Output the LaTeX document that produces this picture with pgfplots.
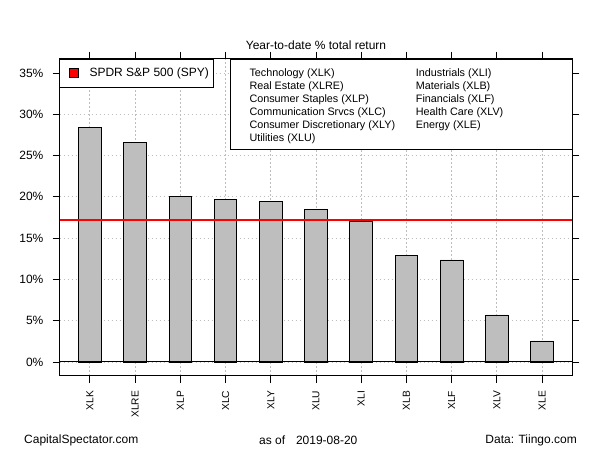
\documentclass[border=0pt]{standalone}
\usepackage{fontspec}
\setmainfont{Liberation Sans}
\usepackage{pgfplots}
\pgfplotsset{compat=1.18}

\definecolor{bargray}{HTML}{BEBEBE}
\definecolor{gridgray}{HTML}{BEBEBE}

\begin{document}
\fontsize{12bp}{14bp}\selectfont
\begin{tikzpicture}[x=1bp,y=1bp]
\useasboundingbox (0,0) rectangle (600,450);
\begin{axis}[
    at={(59.6bp,74bp)}, anchor=south west,
    scale only axis, width=512.7bp, height=317bp,
    xmin=-0.67, xmax=10.67, ymin=-1.7, ymax=36.7,
    xtick={0,...,10},
    xticklabels={XLK,XLRE,XLP,XLC,XLY,XLU,XLI,XLB,XLF,XLV,XLE},
    ytick={0,5,...,35},
    yticklabels={0\%,5\%,10\%,15\%,20\%,25\%,30\%,35\%},
    tick align=outside, major tick length=7bp,
    tick style={black, line width=0.8bp},
    xticklabel style={yshift=-7.7bp, rotate=90, anchor=east, inner sep=0pt,
                      font=\fontsize{10.2bp}{12bp}\selectfont},
    yticklabel style={anchor=east, inner sep=0pt, xshift=-9bp,
                      font=\fontsize{12bp}{14bp}\selectfont},
    grid=major,
    major grid style={gridgray, line width=0.8bp, dash pattern=on 1.5bp off 2.5bp},
    axis line style={black, line width=1bp},
  ]
  % sector ETFs, YTD total return (%)
  \addplot[ybar, bar width=0.5, fill=bargray, draw=black, line width=0.8bp]
    coordinates {(0,28.45) (1,26.6) (2,20.0) (3,19.64) (4,19.39) (5,18.42)
                 (6,16.97) (7,12.85) (8,12.36) (9,5.70) (10,2.55)};
  \addplot[black, line width=1bp] coordinates {(-0.67,0) (10.67,0)};
  % SPY
  \addplot[red, line width=2bp] coordinates {(-0.67,17.25) (10.67,17.25)};
\end{axis}

% legends
\draw[fill=white, line width=1bp] (59.6,390.7) rectangle (213.3,362.7);
\draw[fill=red, line width=0.8bp] (69.3,372.2) rectangle (78.3,381.2);
\node[anchor=west, inner sep=0pt] at (89.3,376.7) {SPDR S\&P 500 (SPY)};

\draw[fill=white, line width=1bp] (230.7,390.7) rectangle (572.3,300.7);
\begin{scope}[every node/.style={anchor=west, inner sep=0pt, font=\fontsize{10.8bp}{13bp}\selectfont}]
\foreach \t [count=\i from 0] in {Technology (XLK),Real Estate (XLRE),Consumer Staples (XLP),Communication Srvcs (XLC),Consumer Discretionary (XLY),Utilities (XLU)}
  \node at (249.3,376-13*\i) {\t};
\foreach \t [count=\i from 0] in {Industrials (XLI),Materials (XLB),Financials (XLF),Health Care (XLV),Energy (XLE)}
  \node at (415.7,376-13*\i) {\t};
\end{scope}

% titles
\node at (316,405) {Year-to-date \% total return};
\node[anchor=west, inner sep=0pt] at (24,10) {CapitalSpectator.com};
\node[anchor=west, inner sep=0pt] at (259,10) {as of\hspace{10.8bp}2019-08-20};
\node[anchor=east, inner sep=0pt] at (577,10) {Data: Tiingo.com};
\end{tikzpicture}
\end{document}
